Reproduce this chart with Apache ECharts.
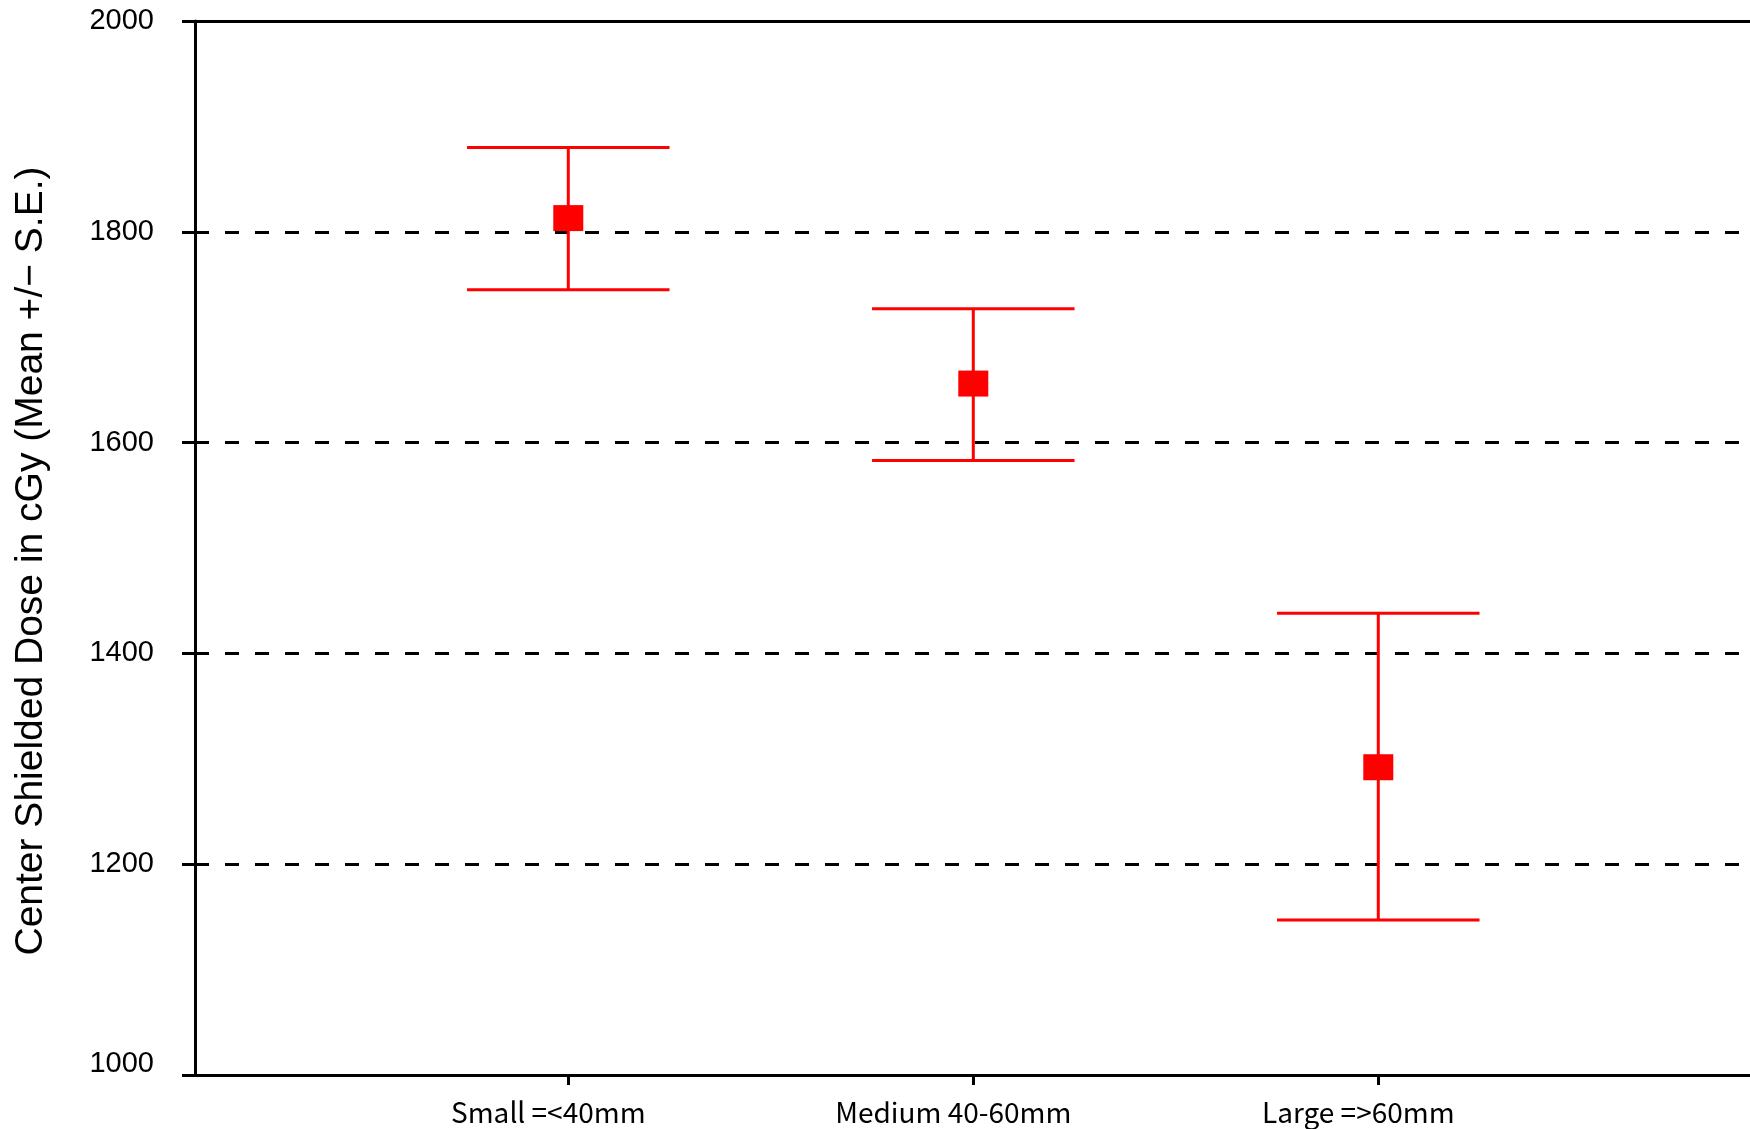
<!DOCTYPE html>
<html>
<head>
<meta charset="utf-8">
<script src="https://cdn.jsdelivr.net/npm/echarts@6/dist/echarts.min.js"></script>
<style>
html,body{margin:0;padding:0;background:#fff;}
#chart{width:1750px;height:1129px;}
</style>
</head>
<body>
<div id="chart"></div>
<script>
const categories = ['Small =<40mm', 'Medium 40-60mm', 'Large =>60mm'];
const means = [1813, 1656, 1292];
const upper = [1880, 1727, 1438];
const lower = [1745, 1583, 1147];
const yTicks = [1000, 1200, 1400, 1600, 1800, 2000];

const catIdx = categories.map((c, i) => i);
const meanData = means.map((m, i) => [i, m]);
const barData = means.map((m, i) => [i, lower[i], upper[i]]);

const X_MIN = -0.9217, X_MAX = 2.9178;

const chart = echarts.init(document.getElementById('chart'));
chart.setOption({
  animation: false,
  backgroundColor: '#ffffff',
  grid: { left: 195, right: 0, top: 21, bottom: 54, containLabel: false, outerBoundsMode: 'none' },
  xAxis: [{
    type: 'value',
    min: X_MIN,
    max: X_MAX,
    axisLine: { show: true, onZero: false, lineStyle: { color: '#000', width: 3 } },
    axisTick: { show: true, customValues: catIdx, length: 10, lineStyle: { color: '#000', width: 3 } },
    axisLabel: {
      show: true, customValues: catIdx,
      formatter: v => categories[Math.round(v)],
      color: '#000', fontSize: 28, fontFamily: 'Noto Sans CJK JP', margin: 23,
      padding: [0, 40, 0, 0]
    },
    splitLine: { show: false }
  }, {
    type: 'value',
    position: 'top',
    min: X_MIN,
    max: X_MAX,
    axisLine: { show: true, onZero: false, lineStyle: { color: '#000', width: 3 } },
    axisTick: { show: false },
    axisLabel: { show: false },
    splitLine: { show: false }
  }],
  yAxis: {
    type: 'value',
    min: yTicks[0], max: yTicks[yTicks.length - 1], interval: 200,
    name: 'Center Shielded Dose in cGy (Mean +/\u2212 S.E.)',
    nameLocation: 'middle', nameRotate: 90, nameGap: 144,
    nameTextStyle: { color: '#000', fontSize: 39, fontFamily: 'Liberation Sans', padding: [0, 26, 0, 0] },
    axisLine: { show: true, onZero: false, lineStyle: { color: '#000', width: 3 } },
    axisTick: { show: true, length: 13, lineStyle: { color: '#000', width: 3 } },
    axisLabel: {
      color: '#000', fontSize: 29, fontFamily: 'Liberation Sans', margin: 41,
      formatter: v => (v === yTicks[0] ? '{low|' + v + '}' : String(v)),
      rich: { low: { fontSize: 29, fontFamily: 'Liberation Sans', color: '#000', padding: [0, 0, 22, 0] } }
    },
    splitLine: { show: true, lineStyle: { color: '#000', width: 3, type: [14, 16] } }
  },
  series: [
    {
      type: 'custom',
      data: barData,
      renderItem: function (params, api) {
        const x = api.value(0);
        const lo = api.coord([x, api.value(1)]);
        const hi = api.coord([x, api.value(2)]);
        const hw = api.size([0.25, 0])[0];
        const style = { stroke: '#ff0000', lineWidth: 3 };
        return {
          type: 'group',
          children: [
            { type: 'line', shape: { x1: lo[0], y1: lo[1], x2: hi[0], y2: hi[1] }, style: style },
            { type: 'line', shape: { x1: hi[0] - hw, y1: hi[1], x2: hi[0] + hw, y2: hi[1] }, style: style },
            { type: 'line', shape: { x1: lo[0] - hw, y1: lo[1], x2: lo[0] + hw, y2: lo[1] }, style: style }
          ]
        };
      },
      z: 3
    },
    {
      type: 'scatter',
      data: meanData,
      symbol: 'rect',
      symbolSize: [30, 26],
      itemStyle: { color: '#ff0000', opacity: 1 },
      z: 4
    }
  ]
});
</script>
</body>
</html>
